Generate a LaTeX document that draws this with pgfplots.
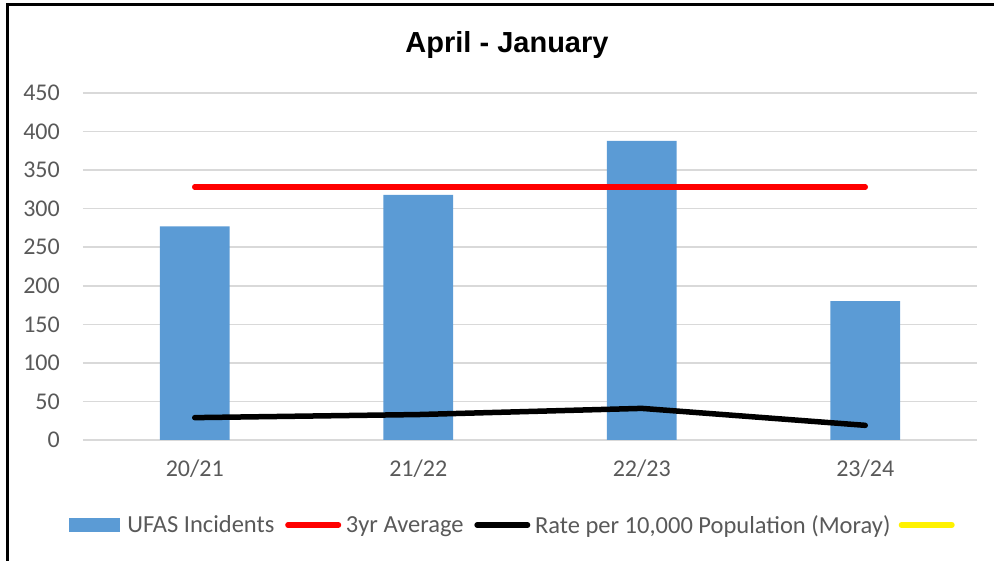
\documentclass[border=0pt]{standalone}
\usepackage{pgfplots}
\pgfplotsset{compat=1.18}
\usepackage{fontspec}
\setmainfont{Carlito}
\newfontfamily\titlefont{Liberation Sans}
\definecolor{barblue}{HTML}{5B9BD5}
\definecolor{tickgray}{HTML}{595959}
\definecolor{gridgray}{HTML}{D9D9D9}
\begin{document}
\begin{tikzpicture}
\path[use as bounding box] (0pt,0pt) rectangle (994pt,561pt);
\draw[line width=3pt] (7pt,0pt) -- (7pt,556pt) -- (994pt,556pt);
\node[font=\titlefont\bfseries\fontsize{29}{34}\selectfont] at (507pt,516pt) {April - January};
\begin{axis}[
  at={(83pt,121pt)}, anchor=south west, scale only axis,
  width=894pt, height=347pt,
  xmin=-0.5, xmax=3.5, ymin=0, ymax=450,
  xtick={0,1,2,3}, xticklabels={20/21,21/22,22/23,23/24},
  ytick={0,50,...,450},
  ymajorgrids, grid style={gridgray, line width=1.5pt},
  axis line style={draw=none}, major tick style={draw=none}, major tick length=0pt,
  tick label style={font=\fontsize{24}{28}\selectfont, text=tickgray},
  /pgf/number format/assume math mode=true,
  yticklabel style={anchor=east, inner sep=0pt, xshift=-23pt},
  xticklabel style={anchor=north, inner sep=0pt, yshift=-20pt},
  legend columns=4,
  legend style={at={(0.4817,-0.245)}, anchor=center, draw=none, fill=none,
    font=\fontsize{24.5}{28}\selectfont, text=tickgray,
    nodes={inner xsep=0pt},
    /tikz/every even column/.append style={column sep=8pt},
    /tikz/every odd column/.append style={column sep=2pt}},
  legend cell align=left,
]
\addplot[ybar, bar width=0.313, fill=barblue, draw=none,
  legend image code/.code={\fill[barblue] (0pt,-7pt) rectangle (51pt,7pt); \path (56pt,0pt);}]
  coordinates {(0,277) (1,318) (2,388) (3,180)};
\addlegendentry{UFAS Incidents}
\addplot[red, line width=5.5pt, line cap=round, mark=none,
  legend image code/.code={\draw[red, line width=5.5pt, line cap=round] (2.75pt,0pt) -- (53.25pt,0pt); \path (0pt,0pt) (56pt,0pt);}]
  coordinates {(0,328) (1,328) (2,328) (3,328)};
\addlegendentry{3yr Average}
\addplot[black, line width=5.5pt, line cap=round, line join=round, mark=none,
  legend image code/.code={\draw[black, line width=5.5pt, line cap=round] (2.75pt,0pt) -- (53.25pt,0pt); \path (0pt,0pt) (56pt,0pt);}]
  coordinates {(0,29) (1,33) (2,41) (3,19)};
\addlegendentry{Rate per 10,000 Population (Moray)}
\addlegendimage{legend image code/.code={\draw[yellow, line width=5.5pt, line cap=round] (2.75pt,0pt) -- (53.25pt,0pt); \path (0pt,0pt) (56pt,0pt);}}
\addlegendentry{}
\end{axis}
\end{tikzpicture}
\end{document}
